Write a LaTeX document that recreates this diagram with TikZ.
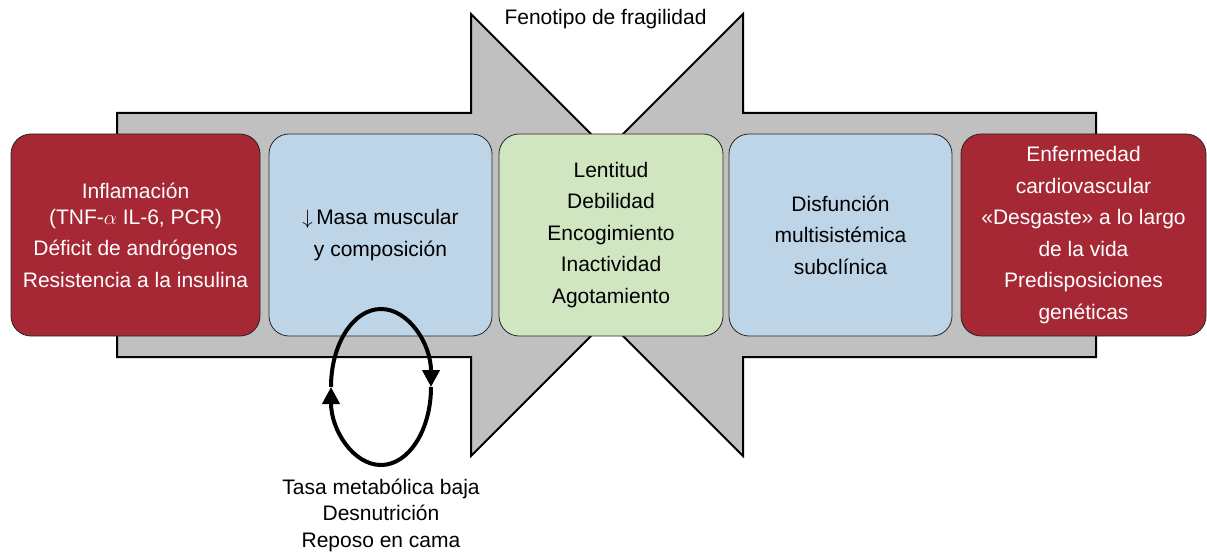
\documentclass[tikz,border=0pt]{standalone}
\usepackage{fontspec}
\setmainfont{Liberation Sans}
\usetikzlibrary{arrows.meta}
\definecolor{boxred}{RGB}{165,40,52}
\definecolor{boxblue}{RGB}{190,213,232}
\definecolor{boxgreen}{RGB}{208,230,193}
\definecolor{bandgray}{RGB}{192,192,192}
\begin{document}
\begin{tikzpicture}[x=1pt,y=-1pt,
  bigarrow/.style={fill=bandgray, draw=black, line width=2pt, line join=miter},
  box/.style={draw=black!85, line width=0.8pt, rounded corners=20pt, minimum height=202pt,
    align=center, inner sep=0pt, font=\fontsize{21}{31.5}\selectfont},
  redbox/.style={box, fill=boxred, text=white},
  bluebox/.style={box, fill=boxblue, text=black},
  greenbox/.style={box, fill=boxgreen, text=black},
  label/.style={align=center, inner sep=0pt, font=\fontsize{21}{26.5}\selectfont},
  loopline/.style={line width=4pt, -{Triangle[length=17pt,width=17pt]}}
]
\useasboundingbox (0,0) rectangle (1207,553);

% big converging arrows
\path[bigarrow] (117,113) -- (471,113) -- (471,14) -- (692,235) -- (471,456) -- (471,357) -- (117,357) -- cycle;
\path[bigarrow] (1096,113) -- (743,113) -- (743,14) -- (522,235) -- (743,456) -- (743,357) -- (1096,357) -- cycle;

% boxes
\node[redbox, minimum width=249pt] (causes) at (135.5,235)
  {Inflamación\\[-5.5pt](TNF-$\alpha$ IL-6, PCR)\\Déficit de andrógenos\\Resistencia a la insulina};
\node[bluebox, minimum width=223pt] (masa) at (380.5,235)
  {$\downarrow$\,Masa muscular\\y composición};
\node[greenbox, minimum width=224pt] (fenotipo) at (611,235)
  {Lentitud\\Debilidad\\Encogimiento\\Inactividad\\Agotamiento};
\node[bluebox, minimum width=223pt] (disf) at (840.5,235)
  {Disfunción\\multisistémica\\subclínica};
\node[redbox, minimum width=245pt] (enf) at (1083.5,235)
  {Enfermedad\\cardiovascular\\«Desgaste» a lo largo\\de la vida\\Predisposiciones\\genéticas};

% title
\node[label] (title) at (605.5,19) {Fenotipo de fragilidad};

% cycle
\coordinate (cycL) at (331,387);
\coordinate (cycR) at (431,387);
\draw[loopline] (cycL) arc[start angle=180, end angle=360, x radius=50, y radius=78];
\draw[loopline] (cycR) arc[start angle=0, end angle=180, x radius=50, y radius=78];

\node[label] (meta) at (381,515) {Tasa metabólica baja\\Desnutrición\\Reposo en cama};
\end{tikzpicture}
\end{document}
